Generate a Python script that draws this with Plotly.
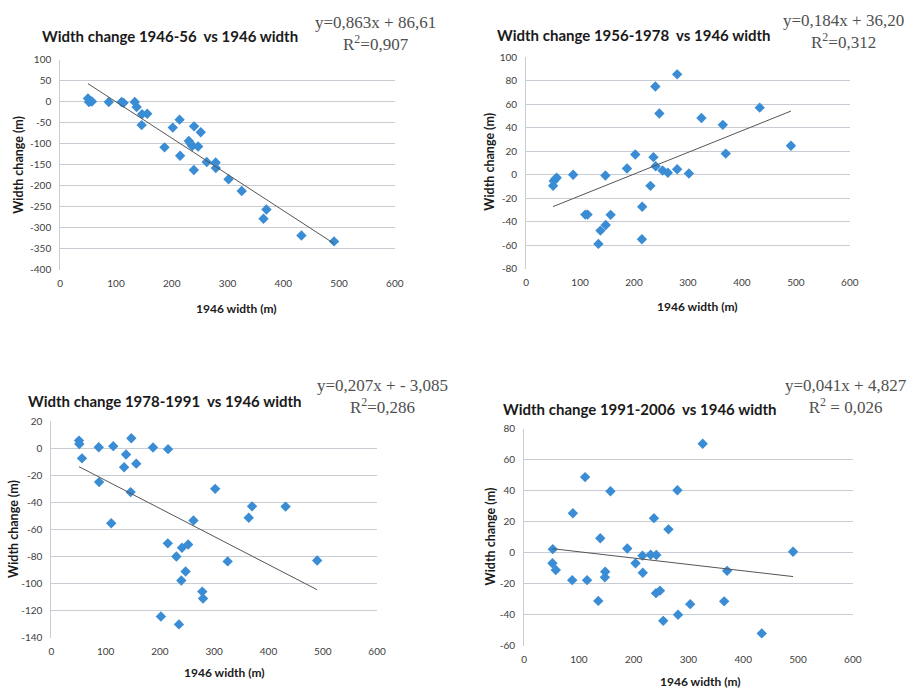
import plotly.graph_objects as go

# ---- data ----
titles = ["Width change 1946-56  vs 1946 width",
          "Width change 1956-1978  vs 1946 width",
          "Width change 1978-1991  vs 1946 width",
          "Width change 1991-2006  vs 1946 width"]
equations = ["y=0,863x + 86,61<br>R<sup>2</sup>=0,907",
             "y=0,184x + 36,20<br>R<sup>2</sup>=0,312",
             "y=0,207x + - 3,085<br>R<sup>2</sup>=0,286",
             "y=0,041x + 4,827<br>R<sup>2</sup> = 0,026"]
slopes = [-0.863, 0.184, -0.207, -0.041]
intercepts = [86.61, -36.20, -3.085, 4.827]

width_1 = [49.7, 51.5, 54.4, 56.8, 87, 110, 113.6, 133.7, 137, 146.7, 156, 146, 187, 201.8,
           214, 215, 230.6, 233.6, 236.6, 240, 239.6, 247.3, 252, 262.7, 278.7, 279, 301.8,
           325.4, 369.8, 364.5, 432.5, 491]
change_1 = [8.6, 0, 2, 1, 0, 0, -2, 0, -12, -29, -28, -55, -108, -61,
            -42, -128, -93, -99, -105, -58, -162, -106, -72, -143, -144, -157, -184,
            -212, -256, -278, -318, -332]

width_2 = [50, 51.2, 54.3, 56.7, 87.2, 109.8, 114, 134, 137.8, 147, 147.6, 156.7, 187, 202.4,
           215.2, 214.6, 230.5, 236, 239.6, 240.2, 247, 253, 262.8, 280, 280, 301.8, 325,
           364.6, 370, 433, 490.9]
change_2 = [-9.4, -5.3, -3.6, -2.5, 0, -33.8, -33.8, -58.7, -47.4, -0.6, -42.7, -34, 5.3, 17.2,
            -27.1, -54.8, -9.4, 15, 75, 7.2, 52, 3.6, 1.7, 85.3, 4.7, 1.1, 48.2,
            42.4, 18, 57, 24.7]

width_3 = [50.9, 51.5, 56.4, 87.3, 87.9, 110.3, 114, 134, 137.6, 147.3, 146, 156.4, 187.3,
           201.8, 214.5, 215, 230.3, 235, 239.4, 240.6, 247.3, 252, 261.8, 278, 279.4, 301.8,
           324.8, 363.6, 369.7, 431.5, 489.7]
change_3 = [5.6, 3.1, -7.5, 0.7, -25, -55.4, 1.5, -14, -4.6, 7.3, -32.4, -11.4, 0.5,
            -124.2, -70.2, -0.7, -79.9, -130, -97.6, -73.4, -91, -71, -53.3, -105.8, -110.9, -30,
            -83.5, -51.3, -42.9, -43.1, -82.8]

width_4 = [52.3, 51.7, 57.8, 89, 87.8, 111.3, 114.9, 135.4, 139, 148, 147.4, 157.6, 188.3,
           203.4, 216, 216.6, 231, 237, 241.3, 240.7, 248, 254, 263.5, 279.8, 281, 303.2,
           326, 365.2, 370.6, 433.8, 491]
change_4 = [2.4, -6.7, -11.1, 25.6, -17.6, 48.9, -17.6, -31, 9.4, -12.2, -15.8, 39.8, 2.8,
            -6.7, -1.8, -12.8, -1.2, 22.4, -1.4, -26, -24.4, -43.9, 15.2, 40.4, -39.9, -33.1,
            70.4, -31.3, -11.6, -52, 0.7]

y_ranges = [(-400, 100, 50), (-80, 100, 20), (-140, 20, 20), (-60, 80, 20)]
x_range = (0, 600, 100)
x_title = "1946 width (m)"
y_title = "Width change (m)"

widths = [width_1, width_2, width_3, width_4]
changes = [change_1, change_2, change_3, change_4]

# ---- layout geometry (pixels) ----
W, H = 921, 694
plot_px = [(58, 397, 54, 268), (530, 858, 51, 267), (49, 379, 422, 643), (528, 861, 430, 651)]
title_px = [(37, 30), (498, 29), (23, 402), (505, 410)]
eq_px = [(377, 27), (852, 25), (385, 397), (854, 397)]
ytitle_px = [(16, 161), (492, 158), (10, 532), (494, 540)]
xtitle_px = [(237, 307), (704, 305), (224, 678), (707, 687)]

def px(x): return x / W
def py(y): return 1 - y / H

fig = go.Figure()
marker_color = "#3A8DD4"
grid_color = "#C9CDD3"
tick_font = dict(family="Lato, Liberation Sans, sans-serif", size=10, color="#404040")

for i in range(4):
    n = i + 1
    xa = "x" if n == 1 else f"x{n}"
    ya = "y" if n == 1 else f"y{n}"
    fig.add_trace(go.Scatter(x=widths[i], y=changes[i], mode="markers",
                             marker=dict(symbol="diamond", size=8, color=marker_color),
                             xaxis=xa, yaxis=ya, showlegend=False))
    xs = [min(widths[i]), max(widths[i])]
    ys = [slopes[i] * v + intercepts[i] for v in xs]
    fig.add_trace(go.Scatter(x=xs, y=ys, mode="lines",
                             line=dict(color="#555555", width=1),
                             xaxis=xa, yaxis=ya, showlegend=False))
    x0, x1, y0, y1 = plot_px[i]
    lo, hi, step = y_ranges[i]
    yt = list(range(lo, hi + 1, step))
    xt = list(range(x_range[0], x_range[1] + 1, x_range[2]))
    xkey = "xaxis" if n == 1 else f"xaxis{n}"
    ykey = "yaxis" if n == 1 else f"yaxis{n}"
    fig.update_layout({
        xkey: dict(domain=[px(x0), px(x1)], range=[x_range[0], x_range[1]], anchor=ya,
                   tickmode="array", tickvals=xt, ticktext=[str(v) for v in xt],
                   showgrid=False, zeroline=False, showline=False, ticks="",
                   tickfont=tick_font, ticklabelstandoff=6),
        ykey: dict(domain=[py(y1), py(y0)], range=[lo, hi], anchor=xa,
                   tickmode="array", tickvals=yt, ticktext=[str(v) for v in yt],
                   showgrid=True, gridcolor=grid_color, gridwidth=1, zeroline=False,
                   showline=True, linecolor=grid_color, linewidth=1, ticks="",
                   tickfont=tick_font, ticklabelstandoff=6),
    })
    tx, ty = title_px[i]
    fig.add_annotation(x=px(tx), y=py(ty), xref="paper", yref="paper", text=f"<b>{titles[i]}</b>",
                       showarrow=False, xanchor="left", yanchor="middle",
                       font=dict(family="Lato, sans-serif", size=15, color="#1a1a1a"))
    ex, ey = eq_px[i]
    fig.add_annotation(x=px(ex), y=py(ey), xref="paper", yref="paper", text=equations[i],
                       showarrow=False, xanchor="center", yanchor="middle", align="center",
                       font=dict(family="Liberation Serif, serif", size=17, color="#505050"))
    yx, yy = ytitle_px[i]
    fig.add_annotation(x=px(yx), y=py(yy), xref="paper", yref="paper", text=f"<b>{y_title}</b>",
                       showarrow=False, textangle=-90, xanchor="center", yanchor="middle",
                       font=dict(family="Lato, sans-serif", size=12.5, color="#1a1a1a"))
    xx, xy = xtitle_px[i]
    fig.add_annotation(x=px(xx), y=py(xy), xref="paper", yref="paper", text=f"<b>{x_title}</b>",
                       showarrow=False, xanchor="center", yanchor="middle",
                       font=dict(family="Lato, sans-serif", size=12, color="#1a1a1a"))

fig.update_layout(width=W, height=H, margin=dict(l=0, r=0, t=0, b=0),
                  paper_bgcolor="white", plot_bgcolor="white")
fig.write_html("out.html", config={"displayModeBar": False},
               post_script="document.body.style.margin='0';document.body.style.overflow='hidden';")
